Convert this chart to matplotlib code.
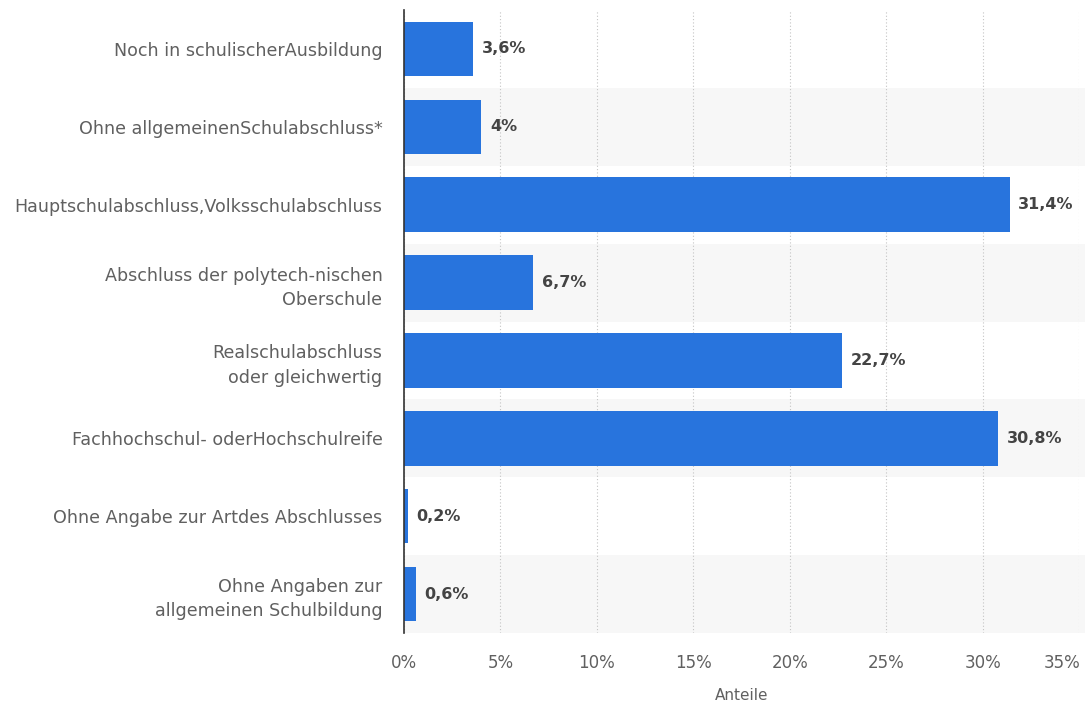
import matplotlib
matplotlib.use("Agg")
import matplotlib.pyplot as plt
from matplotlib.patches import Rectangle
from matplotlib.transforms import blended_transform_factory

categories = [
    "Noch in schulischerAusbildung",
    "Ohne allgemeinenSchulabschluss*",
    "Hauptschulabschluss,Volksschulabschluss",
    "Abschluss der polytech-nischen\nOberschule",
    "Realschulabschluss\noder gleichwertig",
    "Fachhochschul- oderHochschulreife",
    "Ohne Angabe zur Artdes Abschlusses",
    "Ohne Angaben zur\nallgemeinen Schulbildung",
]
values = [3.6, 4.0, 31.4, 6.7, 22.7, 30.8, 0.2, 0.6]
value_labels = ["3,6%", "4%", "31,4%", "6,7%", "22,7%", "30,8%", "0,2%", "0,6%"]
x_ticks = [0, 5, 10, 15, 20, 25, 30, 35]
x_tick_labels = ["0%", "5%", "10%", "15%", "20%", "25%", "30%", "35%"]

bar_color = "#2874dd"
text_color = "#606060"

fig = plt.figure(figsize=(10.85, 7.06), dpi=100)
ax = fig.add_axes([404 / 1085, 1 - 633 / 706, 675 / 1085, 623 / 706])

n = len(categories)
ypos = list(range(n))

# alternating row shading, running out to the right edge of the figure
trans = blended_transform_factory(ax.transAxes, ax.transData)
for i in ypos:
    if i % 2 == 1:
        ax.add_patch(Rectangle((0, i - 0.5), 1.02, 1.0, transform=trans,
                               facecolor="#f7f7f7", edgecolor="none",
                               zorder=0, clip_on=False))

ax.barh(ypos, values, height=0.7, color=bar_color, zorder=3)

for y, v, lab in zip(ypos, values, value_labels):
    ax.text(v + 0.45, y, lab, va="center", ha="left", fontsize=11.5,
            fontweight="bold", color="#444444", zorder=4)

ax.set_xlim(0, 35)
ax.set_ylim(n - 0.5, -0.5)
ax.set_yticks(ypos)
ax.set_yticklabels(categories, fontsize=12.6, color=text_color, linespacing=1.45)
ax.tick_params(axis="y", length=0, pad=15.5)
for t in ax.get_yticklabels():
    t.set_multialignment("right")

# x tick labels drawn as text so the last one can sit inside the figure
ax.set_xticks(x_ticks)
ax.set_xticklabels([])
ax.tick_params(axis="x", length=0)
xtrans = blended_transform_factory(ax.transData, ax.transAxes)
for i, (xv, lab) in enumerate(zip(x_ticks, x_tick_labels)):
    ha = "right" if i == len(x_ticks) - 1 else "center"
    xo = 0.1 if ha == "right" else 0.0
    ax.text(xv + xo, -0.048, lab, transform=xtrans, ha=ha, va="center",
            fontsize=12, color=text_color, clip_on=False)

ax.grid(axis="x", color="#c4c4c4", linestyle=(0, (1, 2)), linewidth=0.8, zorder=1)
ax.set_axisbelow(True)

for s in ["top", "right", "bottom"]:
    ax.spines[s].set_visible(False)
ax.spines["left"].set_color("#333333")
ax.spines["left"].set_linewidth(1.2)
ax.spines["left"].set_zorder(5)

ax.text(0.5, -0.1, "Anteile", transform=ax.transAxes, ha="center", va="center",
        fontsize=11, color=text_color)

fig.savefig("out.png", dpi=100)
